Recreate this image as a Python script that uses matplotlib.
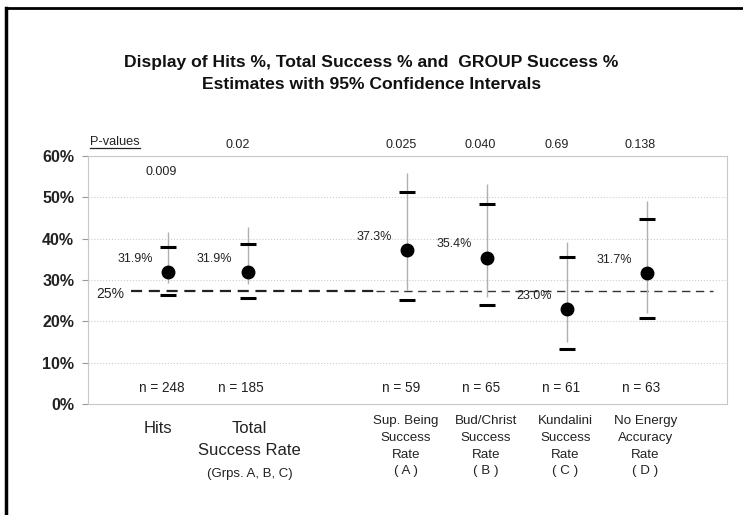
import matplotlib.pyplot as plt
from matplotlib.lines import Line2D

plt.rcParams['font.family'] = ['Liberation Sans', 'DejaVu Sans']

positions = [1, 2, 4, 5, 6, 7]
estimates = [31.9, 31.9, 37.3, 35.4, 23.0, 31.7]
line_hi = [41.7, 42.9, 55.8, 53.2, 39.1, 49.1]
line_lo = [29.2, 29.0, 27.6, 26.0, 15.0, 22.0]
cap_hi = [37.9, 38.7, 51.2, 48.4, 35.6, 44.8]
cap_lo = [26.4, 25.7, 25.2, 24.0, 13.3, 20.9]
value_labels = ["31.9%", "31.9%", "37.3%", "35.4%", "23.0%", "31.7%"]
p_values = ["0.009", "0.02", "0.025", "0.040", "0.69", "0.138"]
p_heights = [56.2, 62.7, 62.7, 62.7, 62.7, 62.7]
n_labels = ["n = 248", "n = 185", "n = 59", "n = 65", "n = 61", "n = 63"]
ref_level = 27.4
big_labels = ["Hits", "Total\nSuccess Rate"]
small_labels = ["Sup. Being\nSuccess\nRate\n( A )", "Bud/Christ\nSuccess\nRate\n( B )",
                "Kundalini\nSuccess\nRate\n( C )", "No Energy\nAccuracy\nRate\n( D )"]

fig = plt.figure(figsize=(7.43, 5.15), dpi=100)
ax = fig.add_axes([0.1184, 0.2155, 0.86, 0.4816])

ax.set_xlim(0, 8)
ax.set_ylim(0, 60)
ax.set_yticks(range(0, 61, 10))
ax.set_yticklabels([f"{v}%" for v in range(0, 61, 10)], fontsize=11.5, fontweight='bold', color='#222222')
ax.set_xticks([])
ax.tick_params(axis='y', length=4, color='#999999', pad=6)
for s in ax.spines.values():
    s.set_color('#c8c8c8')
for v in range(10, 60, 10):
    ax.axhline(v, color='#cccccc', lw=0.8, ls=':', zorder=0)

# reference line
ax.plot([0.54, 3.6], [ref_level, ref_level], color='#222222', lw=1.6, ls=(0, (5, 3)))
ax.plot([3.6, 7.83], [ref_level, ref_level], color='#333333', lw=1.0, ls=(0, (6, 4)))
ax.text(0.1, 26.6, "25%", fontsize=10, va='center', ha='left', color='#222222')

# intervals
ax.vlines(positions, line_lo, line_hi, color='#b0b0b0', lw=1.0, zorder=2)
ax.plot(positions, cap_hi, ls='none', marker='_', ms=12, mew=2.2, color='black', zorder=3)
ax.plot(positions, cap_lo, ls='none', marker='_', ms=12, mew=2.2, color='black', zorder=3)
ax.plot(positions, estimates, ls='none', marker='o', ms=9, color='black', zorder=4)

for x, y, lab in zip(positions, estimates, value_labels):
    ax.text(x - 0.19, y + 3.2, lab, ha='right', va='center', fontsize=9, color='#222222')
for x, y, lab in zip(positions, p_heights, p_values):
    ax.text(x - 0.28, y, lab, ha='left', va='center', fontsize=9, color='#222222', clip_on=False)
for x, lab in zip(positions, n_labels):
    ax.text(x - 0.08, 3.9, lab, ha='center', va='center', fontsize=9.8, color='#222222')

ax.text(0.02, 63.5, "P-values", fontsize=9.2, ha='left', va='center', color='#222222', clip_on=False)
ax.add_line(Line2D([0.02, 0.65], [61.9, 61.9], color='#222222', lw=0.9, clip_on=False))

# category labels
tr = ax.get_xaxis_transform()
ax.text(positions[0] - 0.12, -0.067, big_labels[0], transform=tr, ha='center', va='top',
        fontsize=12, color='#222222')
ax.text(positions[1] + 0.02, -0.067, big_labels[1], transform=tr, ha='center', va='top',
        fontsize=12, color='#222222', linespacing=1.6)
ax.text(positions[1] + 0.02, -0.257, "(Grps. A, B, C)", transform=tr, ha='center', va='top',
        fontsize=9.5, color='#222222')
for x, lab in zip(positions[2:], small_labels):
    ax.text(x - 0.02, -0.045, lab, transform=tr, ha='center', va='top',
            fontsize=9.6, color='#222222', linespacing=1.52)

fig.text(0.5, 0.857, "Display of Hits %, Total Success % and  GROUP Success %\nEstimates with 95% Confidence Intervals",
         ha='center', va='center', fontsize=12.6, fontweight='bold', color='#111111', linespacing=1.55)

# outer frame
fig.add_artist(Line2D([0.008, 0.008], [0, 0.985], transform=fig.transFigure, color='black', lw=2.5))
fig.add_artist(Line2D([0.008, 1.0], [0.985, 0.985], transform=fig.transFigure, color='black', lw=2.0))

fig.savefig("out.png", dpi=100)
